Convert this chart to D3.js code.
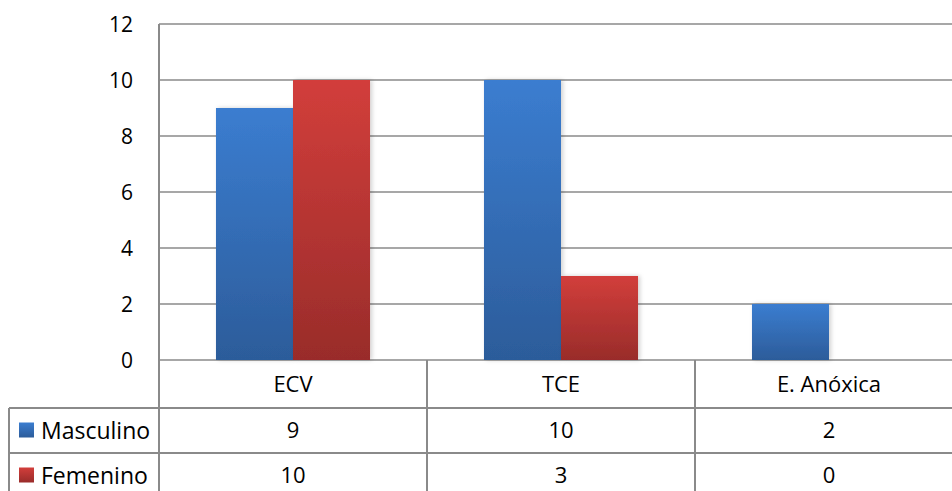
<!DOCTYPE html>
<html>
<head>
<meta charset="utf-8">
<script src="https://cdn.jsdelivr.net/npm/d3@7"></script>
<style>
  html, body { margin: 0; padding: 0; background: #fff; }
  svg { display: block; font-family: "Open Sans", sans-serif; }
</style>
</head>
<body>
<div class="chart"></div>
<script>
const categories = ["ECV", "TCE", "E. Anóxica"];
const seriesNames = ["Masculino", "Femenino"];
const masculino = [9, 10, 2];
const femenino = [10, 3, 0];
const yTicks = [0, 2, 4, 6, 8, 10, 12];

const seriesValues = [masculino, femenino];
const colors = [
  { top: "#3b7dd0", bottom: "#2c5c9a" },
  { top: "#d23e3b", bottom: "#992c2a" }
];

let width = 952, height = 491;
let plot = { left: 159, right: 963, top: 24, bottom: 360 };
let rowH = [48, 45, 45];

let svg = d3
  .select(".chart")
  .append("svg")
  .attr("width", width)
  .attr("height", height);

let defs = svg.append("defs");
colors.forEach((c, i) => {
  let g = defs.append("linearGradient")
    .attr("id", "grad" + i)
    .attr("x1", 0).attr("y1", 0).attr("x2", 0).attr("y2", 1);
  g.append("stop").attr("offset", "0%").attr("stop-color", c.top);
  g.append("stop").attr("offset", "100%").attr("stop-color", c.bottom);
});
let shadow = defs.append("filter").attr("id", "shadow")
  .attr("x", "-10%").attr("y", "-5%").attr("width", "130%").attr("height", "110%");
shadow.append("feDropShadow")
  .attr("dx", 2).attr("dy", 0).attr("stdDeviation", 2)
  .attr("flood-color", "#000").attr("flood-opacity", 0.18);

let yScale = d3.scaleLinear().domain([0, 12]).range([plot.bottom, plot.top]);
let xScale = d3.scaleBand().domain(categories).range([plot.left, plot.right]);
let xInner = d3.scaleBand()
  .domain(seriesNames)
  .range([0, xScale.bandwidth()])
  .paddingInner(0)
  .paddingOuter(0.74);

const lineColor = "#8a8a8a";

// gridlines
svg.append("g")
  .selectAll("line")
  .data(yTicks)
  .join("line")
  .attr("x1", plot.left)
  .attr("x2", width)
  .attr("y1", d => yScale(d))
  .attr("y2", d => yScale(d))
  .attr("stroke", lineColor)
  .attr("stroke-width", 1.5);

// y axis labels
svg.append("g")
  .selectAll("text")
  .data(yTicks)
  .join("text")
  .attr("x", 133)
  .attr("y", d => yScale(d))
  .attr("dy", "0.36em")
  .attr("text-anchor", "end")
  .attr("font-size", 21)
  .attr("fill", "#000")
  .text(d => d);

// bars
seriesNames.forEach((s, si) => {
  svg.append("g")
    .attr("filter", "url(#shadow)")
    .selectAll("rect")
    .data(categories.map((c, i) => ({ cat: c, value: seriesValues[si][i] })))
    .join("rect")
    .attr("x", d => xScale(d.cat) + xInner(s))
    .attr("width", xInner.bandwidth())
    .attr("y", d => yScale(d.value))
    .attr("height", d => yScale(0) - yScale(d.value))
    .attr("fill", "url(#grad" + si + ")");
});

// data table
let table = svg.append("g");
let y0 = plot.bottom, y1 = y0 + rowH[0], y2 = y1 + rowH[1], y3 = y2 + rowH[2];
let tableLeft = 9;

// left axis line through plot and header row
table.append("line")
  .attr("x1", plot.left).attr("x2", plot.left)
  .attr("y1", plot.top).attr("y2", height)
  .attr("stroke", lineColor).attr("stroke-width", 2);

// column dividers
table.selectAll("line.col")
  .data(categories.slice(1))
  .join("line")
  .attr("class", "col")
  .attr("x1", d => xScale(d)).attr("x2", d => xScale(d))
  .attr("y1", y0).attr("y2", height)
  .attr("stroke", lineColor).attr("stroke-width", 2);

// row lines
[y1, y2].forEach(yy => {
  table.append("line")
    .attr("x1", tableLeft).attr("x2", width)
    .attr("y1", yy).attr("y2", yy)
    .attr("stroke", lineColor).attr("stroke-width", 2);
});
table.append("line")
  .attr("x1", tableLeft).attr("x2", tableLeft)
  .attr("y1", y1).attr("y2", height)
  .attr("stroke", lineColor).attr("stroke-width", 2);

// category header
table.selectAll("text.cat")
  .data(categories)
  .join("text")
  .attr("class", "cat")
  .attr("x", d => xScale(d) + xScale.bandwidth() / 2)
  .attr("y", (y0 + y1) / 2)
  .attr("dy", "0.36em")
  .attr("text-anchor", "middle")
  .attr("font-size", 22)
  .text(d => d);

// series rows
seriesNames.forEach((s, si) => {
  let top = si === 0 ? y1 : y2;
  let mid = top + rowH[si + 1] / 2;
  table.append("rect")
    .attr("x", 19).attr("y", mid - 8)
    .attr("width", 15).attr("height", 15)
    .attr("fill", "url(#grad" + si + ")");
  table.append("text")
    .attr("x", 41)
    .attr("y", mid)
    .attr("dy", "0.36em")
    .attr("font-size", 23)
    .text(s);
  table.selectAll("text.v" + si)
    .data(categories.map((c, i) => ({ cat: c, value: seriesValues[si][i] })))
    .join("text")
    .attr("class", "v" + si)
    .attr("x", d => xScale(d.cat) + xScale.bandwidth() / 2)
    .attr("y", mid)
    .attr("dy", "0.36em")
    .attr("text-anchor", "middle")
    .attr("font-size", 22)
    .text(d => d.value);
});
</script>
</body>
</html>
